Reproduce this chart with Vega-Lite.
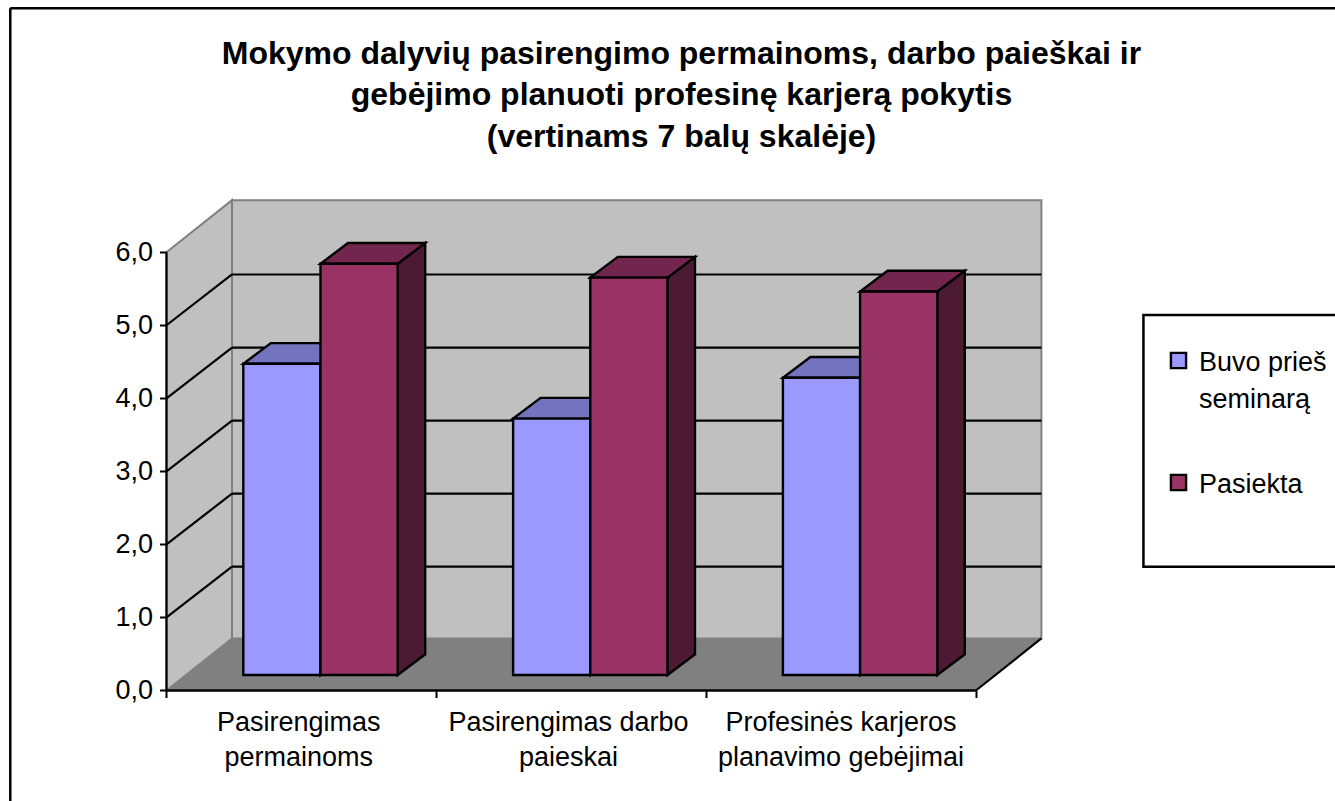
{
"$schema":"https://vega.github.io/schema/vega-lite/v6.json",
"width":1335,"height":801,"padding":0,"autosize":{"type":"none"},"background":"white",
"view":{"stroke":null},
"title":{"text":["Mokymo dalyvių pasirengimo permainoms, darbo paieškai ir","gebėjimo planuoti profesinę karjerą pokytis","(vertinams 7 balų skalėje)"],"font":"Liberation Sans","fontWeight":"bold","fontSize":32,"lineHeight":41.5,"color":"black","anchor":"middle","baseline":"top","offset":0,"dy":153.5,"dx":14},
"datasets":{
"bars":[
{"category":"Pasirengimas permainoms","idx":0,"series":"Buvo prieš seminarą","s":0,"value":4.26},
{"category":"Pasirengimas permainoms","idx":0,"series":"Pasiekta","s":1,"value":5.63},
{"category":"Pasirengimas darbo paieskai","idx":1,"series":"Buvo prieš seminarą","s":0,"value":3.51},
{"category":"Pasirengimas darbo paieskai","idx":1,"series":"Pasiekta","s":1,"value":5.44},
{"category":"Profesinės karjeros planavimo gebėjimai","idx":2,"series":"Buvo prieš seminarą","s":0,"value":4.07},
{"category":"Profesinės karjeros planavimo gebėjimai","idx":2,"series":"Pasiekta","s":1,"value":5.25}
],
"cats":[
{"label":["Pasirengimas","permainoms"],"pos":0.49},
{"label":["Pasirengimas darbo","paieskai"],"pos":1.49},
{"label":["Profesinės karjeros","planavimo gebėjimai"],"pos":2.5}
],
"depth":[{"t":0},{"t":1}],
"levels":[{"v":1},{"v":2},{"v":3},{"v":4},{"v":5}],
"one":[{"part":"x"}]
},
"layer":[
{"data":{"name":"one"},"mark":{"type":"rule","stroke":"black","strokeWidth":2.5},
 "encoding":{"x":{"datum":-0.579,"type":"quantitative","scale":{"domain":[-0.6171,4.331],"nice":false,"zero":false},"axis":{"orient":"bottom","offset":-110.5,"values":[0,1,2,3],"title":null,"domain":false,"grid":false,"labels":false,"ticks":true,"tickColor":"black","tickWidth":2,"tickSize":7,"zindex":1}},
 "y":{"datum":9.339,"type":"quantitative","scale":{"domain":[-1.5127,9.4524],"nice":false,"zero":false},"axis":{"orient":"left","offset":-166.5,"values":[0,1,2,3,4,5,6],"title":null,"domain":false,"grid":false,"tickColor":"black","tickWidth":2,"tickSize":7,"labelFont":"Liberation Sans","labelFontSize":27,"labelColor":"black","labelPadding":7,"labelExpr":"replace(format(datum.value,'.1f'),'.',',')","zindex":1}},
 "y2":{"datum":-1.5127}}},
{"data":{"name":"one"},"mark":{"type":"rule","stroke":"black","strokeWidth":2.5},
 "encoding":{"x":{"datum":-0.579,"type":"quantitative"},"x2":{"datum":4.331},"y":{"datum":9.339,"type":"quantitative"}}},
{"data":{"name":"depth"},"transform":[{"calculate":"datum.t*0.2428","as":"x"},{"calculate":"datum.t*0.712","as":"y0"},{"calculate":"6+datum.t*0.712","as":"y1"}],
 "mark":{"type":"area","fill":"#C0C0C0","stroke":"#808080","strokeWidth":2},
 "encoding":{"x":{"field":"x","type":"quantitative"},"y":{"field":"y0","type":"quantitative","stack":null},"y2":{"field":"y1"}}},
{"data":{"name":"one"},"mark":{"type":"rect","fill":"#C0C0C0","stroke":"#808080","strokeWidth":2},
 "encoding":{"x":{"datum":0.2428,"type":"quantitative"},"x2":{"datum":3.2428},"y":{"datum":0.712,"type":"quantitative"},"y2":{"datum":6.712}}},
{"data":{"name":"depth"},"transform":[{"calculate":"datum.t*0.2428","as":"x0"},{"calculate":"3+datum.t*0.2428","as":"x1"},{"calculate":"datum.t*0.712","as":"y"}],
 "mark":{"type":"area","orient":"horizontal","fill":"#808080","stroke":"#808080","strokeWidth":1},
 "encoding":{"y":{"field":"y","type":"quantitative"},"x":{"field":"x0","type":"quantitative","stack":null},"x2":{"field":"x1"}}},
{"data":{"name":"levels"},"transform":[{"calculate":"datum.v+0.695","as":"vb"}],"mark":{"type":"rule","stroke":"black","strokeWidth":2.2},
 "encoding":{"x":{"datum":0,"type":"quantitative"},"x2":{"datum":0.2428},"y":{"field":"v","type":"quantitative"},"y2":{"field":"vb"}}},
{"data":{"name":"levels"},"transform":[{"calculate":"datum.v+0.695","as":"vb"}],"mark":{"type":"rule","stroke":"black","strokeWidth":2.2},
 "encoding":{"x":{"datum":0.2428,"type":"quantitative"},"x2":{"datum":3.2428},"y":{"field":"vb","type":"quantitative"}}},
{"data":{"name":"one"},"mark":{"type":"rule","stroke":"black","strokeWidth":2.2},
 "encoding":{"x":{"datum":3,"type":"quantitative"},"x2":{"datum":3.2428},"y":{"datum":0,"type":"quantitative"},"y2":{"datum":0.712}}},
{"data":{"name":"one"},"mark":{"type":"rule","stroke":"black","strokeWidth":2.2},
 "encoding":{"x":{"datum":0,"type":"quantitative"},"y":{"datum":0,"type":"quantitative"},"y2":{"datum":6}}},
{"data":{"name":"one"},"mark":{"type":"rule","stroke":"black","strokeWidth":2.5},
 "encoding":{"x":{"datum":0,"type":"quantitative"},"x2":{"datum":3},"y":{"datum":0,"type":"quantitative"}}},
{"data":{"name":"bars"},"transform":[
 {"fold":["value","s"],"as":["corner","unused"]},
 {"calculate":"datum.corner=='s'?1:0","as":"t"},
 {"calculate":"datum.idx+0.2847+datum.s*0.2861+0.2861+datum.t*0.1019","as":"x"},
 {"calculate":"0.2122+datum.t*0.2834","as":"y0"},
 {"calculate":"datum.value+0.2122+datum.t*0.2834","as":"y1"}],
 "mark":{"type":"area","stroke":"black","strokeWidth":2.4},
 "encoding":{"x":{"field":"x","type":"quantitative"},"y":{"field":"y0","type":"quantitative","stack":null},"y2":{"field":"y1"},"detail":{"field":"category"},
 "color":{"field":"series","type":"nominal","scale":{"domain":["Buvo prieš seminarą","Pasiekta"],"range":["#4D4D80","#4D1A33"]},"legend":null}}},
{"data":{"name":"bars"},"transform":[
 {"fold":["value","s"],"as":["corner","unused"]},
 {"calculate":"datum.corner=='s'?1:0","as":"t"},
 {"calculate":"datum.idx+0.2847+datum.s*0.2861+datum.t*0.1019","as":"x0"},
 {"calculate":"datum.x0+0.2861","as":"x1"},
 {"calculate":"datum.value+0.2122+datum.t*0.2834","as":"y"}],
 "mark":{"type":"area","orient":"horizontal","stroke":"black","strokeWidth":2.4},
 "encoding":{"y":{"field":"y","type":"quantitative"},"x":{"field":"x0","type":"quantitative","stack":null},"x2":{"field":"x1"},"detail":{"field":"category"},
 "color":{"field":"series","type":"nominal","scale":{"domain":["Buvo prieš seminarą","Pasiekta"],"range":["#7373BF","#73264D"]},"legend":null}}},
{"data":{"name":"one"},"mark":{"type":"rect","fill":"white","stroke":"black","strokeWidth":2.5,"clip":true},
 "encoding":{"x":{"datum":3.621,"type":"quantitative"},"x2":{"datum":4.4},"y":{"datum":5.14,"type":"quantitative"},"y2":{"datum":1.695}}},
{"data":{"name":"bars"},"transform":[
 {"calculate":"datum.idx+0.2847+datum.s*0.2861","as":"x0"},
 {"calculate":"datum.x0+0.2861","as":"x1"},
 {"calculate":"datum.value+0.2122","as":"y1"},
 {"calculate":"0.2122","as":"y0"}],
 "mark":{"type":"rect","stroke":"black","strokeWidth":2.4},
 "encoding":{"x":{"field":"x0","type":"quantitative"},"x2":{"field":"x1"},"y":{"field":"y0","type":"quantitative"},"y2":{"field":"y1"},
 "color":{"field":"series","type":"nominal","scale":{"domain":["Buvo prieš seminarą","Pasiekta"],"range":["#9999FF","#993366"]},
  "legend":{"orient":"none","legendX":1165,"legendY":347,"title":null,"padding":0,"symbolType":"square","symbolSize":230,"symbolStrokeColor":"black","symbolStrokeWidth":2.4,"symbolOpacity":1,"labelFont":"Liberation Sans","labelFontSize":27,"labelColor":"black","labelOffset":7,"labelLimit":300,"rowPadding":56,"labelBaseline":"top","labelExpr":"datum.label=='Buvo prieš seminarą'?['Buvo prieš','seminarą']:datum.label","encoding":{"labels":{"lineHeight":{"value":37},"dy":{"value":-11}}}}}}},
{"data":{"name":"cats"},"mark":{"type":"text","font":"Liberation Sans","fontSize":27,"lineHeight":35,"color":"black","align":"center","baseline":"alphabetic"},
 "encoding":{"x":{"field":"pos","type":"quantitative"},"y":{"datum":-0.55,"type":"quantitative"},"text":{"field":"label"}}}
],
"resolve":{"scale":{"color":"independent"}}
}
